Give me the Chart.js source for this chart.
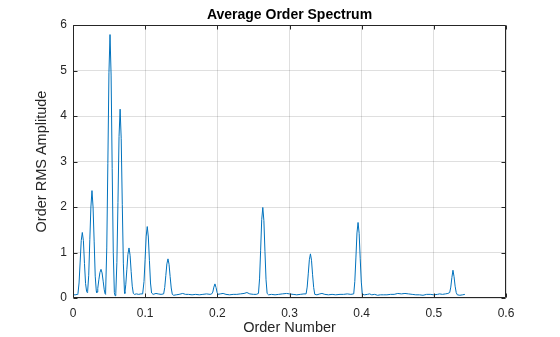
<!DOCTYPE html>
<html>
<head>
<meta charset="utf-8">
<title>Average Order Spectrum</title>
<script src="https://cdn.jsdelivr.net/npm/chart.js@4/dist/chart.umd.min.js"></script>
<style>
  html, body { margin: 0; padding: 0; background: #ffffff; }
  #wrap { width: 560px; height: 337px; }
</style>
</head>
<body>
<div id="wrap"><canvas id="spectrum" width="560" height="337"></canvas></div>
<script>
// Order axis samples and the averaged RMS amplitude at each order
const orderNumber = [
  0.0000, 0.0030, 0.0060, 0.0069, 0.0084, 0.0099, 0.0114, 0.0129, 0.0144, 0.0159, 0.0174, 0.0189,
  0.0196, 0.0203, 0.0218, 0.0233, 0.0248, 0.0263, 0.0278, 0.0293, 0.0308, 0.0323,
  0.0328, 0.0333, 0.0343, 0.0358, 0.0373, 0.0388, 0.0403, 0.0418, 0.0433, 0.0445,
  0.0450, 0.0453, 0.0468, 0.0483, 0.0498, 0.0513, 0.0528, 0.0543, 0.0558, 0.0573,
  0.0583, 0.0593, 0.0608, 0.0623, 0.0638, 0.0653, 0.0668, 0.0683, 0.0698, 0.0713,
  0.0718, 0.0731, 0.0746, 0.0761, 0.0776, 0.0791, 0.0806, 0.0821, 0.0836,
  0.0850, 0.0880, 0.0910, 0.0940, 0.0965,
  0.0984, 0.0999, 0.1014, 0.1029, 0.1044, 0.1059, 0.1074, 0.1089,
  0.1110, 0.1150, 0.1180, 0.1220, 0.1256,
  0.1271, 0.1286, 0.1301, 0.1316, 0.1331, 0.1346, 0.1361, 0.1376, 0.1395,
  0.1430, 0.1470, 0.1520, 0.1560, 0.1600, 0.1650, 0.1700, 0.1750, 0.1800, 0.1850, 0.1900, 0.1922,
  0.1937, 0.1952, 0.1967, 0.1982, 0.1997, 0.2012,
  0.2040, 0.2080, 0.2120, 0.2170, 0.2220, 0.2270, 0.2320, 0.2370, 0.2410, 0.2450, 0.2500, 0.2540, 0.2570,
  0.2585, 0.2600, 0.2615, 0.2630, 0.2645, 0.2660, 0.2675, 0.2690,
  0.2710, 0.2750, 0.2800, 0.2850, 0.2900, 0.2960, 0.3000, 0.3050, 0.3100, 0.3150, 0.3200, 0.3230,
  0.3245, 0.3260, 0.3275, 0.3290, 0.3305, 0.3320, 0.3335, 0.3350,
  0.3380, 0.3420, 0.3450, 0.3490, 0.3540, 0.3590, 0.3640, 0.3700, 0.3750, 0.3800, 0.3850, 0.3890,
  0.3905, 0.3920, 0.3935, 0.3950, 0.3965, 0.3980, 0.3995, 0.4010,
  0.4040, 0.4080, 0.4110, 0.4140, 0.4180, 0.4220, 0.4260, 0.4300, 0.4350, 0.4400, 0.4450, 0.4500,
  0.4550, 0.4600, 0.4650, 0.4700, 0.4750, 0.4800, 0.4850, 0.4900, 0.4950, 0.5000, 0.5050, 0.5080,
  0.5120, 0.5160, 0.5195, 0.5220,
  0.5235, 0.5250, 0.5265, 0.5280, 0.5295, 0.5310, 0.5325,
  0.5360, 0.5400, 0.5430
];
const rmsAmplitude = [
  0.07, 0.07, 0.08, 0.10, 0.33, 0.79, 1.26, 1.44, 1.26, 0.76, 0.32, 0.14,
  0.12, 0.15, 0.50, 1.28, 2.00, 2.36, 2.00, 1.25, 0.48, 0.15,
  0.12, 0.13, 0.21, 0.40, 0.56, 0.63, 0.55, 0.37, 0.18, 0.09,
  0.08, 0.10, 1.10, 2.95, 4.95, 5.79, 4.90, 2.85, 1.00, 0.12,
  0.05, 0.10, 0.78, 2.10, 3.55, 4.15, 3.50, 2.05, 0.75, 0.14,
  0.10, 0.29, 0.62, 0.96, 1.10, 0.94, 0.58, 0.26, 0.10,
  0.08, 0.09, 0.08, 0.09, 0.09,
  0.36, 0.85, 1.36, 1.57, 1.34, 0.82, 0.33, 0.11,
  0.08, 0.10, 0.09, 0.08, 0.09,
  0.23, 0.49, 0.75, 0.86, 0.74, 0.47, 0.22, 0.08, 0.06,
  0.07, 0.08, 0.10, 0.08, 0.08, 0.07, 0.08, 0.07, 0.08, 0.09, 0.08, 0.09,
  0.13, 0.24, 0.31, 0.23, 0.12, 0.08,
  0.09, 0.10, 0.08, 0.07, 0.08, 0.08, 0.09, 0.10, 0.12, 0.09, 0.08, 0.08, 0.10,
  0.42, 1.05, 1.72, 1.99, 1.70, 1.02, 0.40, 0.10,
  0.07, 0.08, 0.07, 0.08, 0.09, 0.10, 0.09, 0.08, 0.07, 0.08, 0.09, 0.09,
  0.24, 0.53, 0.84, 0.97, 0.83, 0.51, 0.23, 0.08,
  0.07, 0.09, 0.10, 0.08, 0.07, 0.08, 0.07, 0.08, 0.08, 0.09, 0.08, 0.09,
  0.36, 0.88, 1.43, 1.66, 1.42, 0.86, 0.35, 0.08,
  0.07, 0.08, 0.09, 0.07, 0.08, 0.06, 0.07, 0.07, 0.07, 0.08, 0.08, 0.10,
  0.09, 0.10, 0.09, 0.08, 0.07, 0.07, 0.06, 0.08, 0.08, 0.07, 0.08, 0.09,
  0.08, 0.09, 0.10, 0.12,
  0.24, 0.45, 0.61, 0.47, 0.26, 0.12, 0.07,
  0.06, 0.07, 0.08
];
const xTickValues = [0, 0.1, 0.2, 0.3, 0.4, 0.5, 0.6];
const yTickValues = [0, 1, 2, 3, 4, 5, 6];

const AXIS_COLOR = '#262626';
const FONT = '"Liberation Sans", Arial, Helvetica, sans-serif';

// Closed box around the axes with short inward tick marks on all four sides
const axesBox = {
  id: 'axesBox',
  afterDatasetsDraw(chart) {
    const { ctx, chartArea } = chart;
    const { x, y } = chart.scales;
    const L = Math.round(chartArea.left) + 0.5;
    const R = Math.round(chartArea.right) - 0.5;
    const T = Math.round(chartArea.top) + 0.5;
    const B = Math.round(chartArea.bottom) - 0.5;
    const len = 4;
    ctx.save();
    ctx.strokeStyle = AXIS_COLOR;
    ctx.lineWidth = 1;
    ctx.beginPath();
    ctx.rect(L, T, R - L, B - T);
    x.ticks.forEach(t => {
      const px = Math.round(x.getPixelForValue(t.value)) + 0.5;
      ctx.moveTo(px, B); ctx.lineTo(px, B - len);
      ctx.moveTo(px, T); ctx.lineTo(px, T + len);
    });
    y.ticks.forEach(t => {
      const py = Math.round(y.getPixelForValue(t.value)) + 0.5;
      ctx.moveTo(L, py); ctx.lineTo(L + len, py);
      ctx.moveTo(R, py); ctx.lineTo(R - len, py);
    });
    ctx.stroke();
    ctx.restore();
  }
};

const points = orderNumber.map((o, i) => ({ x: o, y: rmsAmplitude[i] }));

new Chart(document.getElementById('spectrum'), {
  type: 'line',
  data: {
    datasets: [{
      data: points,
      borderColor: '#0072BD',
      borderWidth: 1,
      pointRadius: 0,
      tension: 0,
      fill: false
    }]
  },
  options: {
    responsive: false,
    animation: false,
    parsing: true,
    layout: { padding: { left: 0, right: 54, top: 0, bottom: 0 } },
    plugins: {
      legend: { display: false },
      tooltip: { enabled: false },
      title: {
        display: true,
        text: 'Average Order Spectrum',
        fullSize: false,
        color: '#000000',
        font: { family: FONT, size: 14, weight: 'bold' },
        padding: { top: 7, bottom: 1.2 }
      }
    },
    scales: {
      x: {
        type: 'linear',
        min: 0,
        max: 0.6,
        afterBuildTicks(scale) { scale.ticks = xTickValues.map(v => ({ value: v })); },
        afterFit(scale) { scale.height = 39; scale.paddingLeft = 0; scale.paddingRight = 0; },
        grid: { color: 'rgba(38,38,38,0.15)', drawTicks: false, lineWidth: 1 },
        border: { display: false },
        ticks: {
          color: AXIS_COLOR,
          font: { family: FONT, size: 12 },
          padding: 8,
          maxRotation: 0,
          callback: v => String(Number(v.toFixed(1)))
        },
        title: {
          display: true,
          text: 'Order Number',
          color: AXIS_COLOR,
          font: { family: FONT, size: 14.5 },
          padding: { top: 0, bottom: 0.2 }
        }
      },
      y: {
        type: 'linear',
        min: 0,
        max: 6,
        afterBuildTicks(scale) { scale.ticks = yTickValues.map(v => ({ value: v })); },
        afterFit(scale) { scale.width = 73; scale.paddingTop = 0; scale.paddingBottom = 0; },
        grid: { color: 'rgba(38,38,38,0.15)', drawTicks: false, lineWidth: 1 },
        border: { display: false },
        ticks: {
          color: AXIS_COLOR,
          font: { family: FONT, size: 12 },
          padding: 6,
          callback: v => String(v)
        },
        title: {
          display: true,
          text: 'Order RMS Amplitude',
          color: AXIS_COLOR,
          font: { family: FONT, size: 14.5 },
          padding: { top: 32.8, bottom: 0 }
        }
      }
    }
  },
  plugins: [axesBox]
});
</script>
</body>
</html>
